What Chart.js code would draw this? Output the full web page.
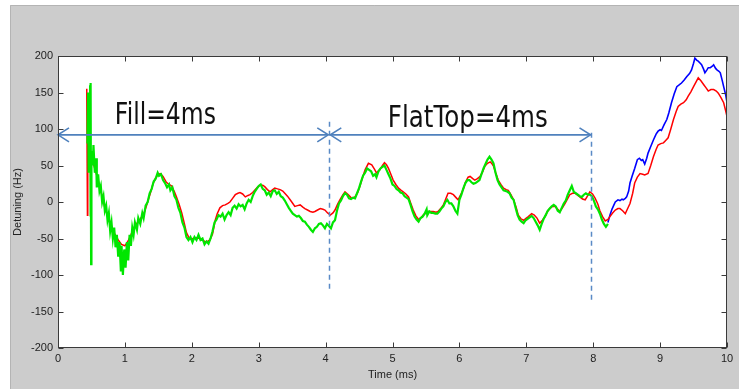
<!DOCTYPE html>
<html>
<head>
<meta charset="utf-8">
<script src="https://cdn.jsdelivr.net/npm/chart.js@4/dist/chart.umd.min.js"></script>
<style>
  html, body { margin: 0; padding: 0; background: #ffffff; }
  #wrap { position: relative; width: 739px; height: 389px; }
  canvas { display: block; }
</style>
</head>
<body>
<div id="wrap"><canvas id="c" width="739" height="389"></canvas></div>
<script>
// ---------- data (time in ms, detuning in Hz) ----------
const xTickValues = [0, 1, 2, 3, 4, 5, 6, 7, 8, 9, 10];
const yTickValues = [-200, -150, -100, -50, 0, 50, 100, 150, 200];

const redSeries = [[0.43,155],[0.44,-18],[0.445,145],[0.45,72],[0.50,62],[0.55,46],[0.60,30],[0.63,18],[0.67,5],[0.70,-8],[0.74,-18],[0.78,-28],[0.82,-38],[0.85,-44],[0.90,-52],[0.95,-58],[1.00,-60],[1.05,-53],[1.09,-45],[1.13,-36],[1.17,-30],[1.20,-27],[1.24,-22],[1.28,-17],[1.32,-6],[1.35,3],[1.39,15],[1.42,25],[1.46,33],[1.50,38],[1.53,39],[1.57,35],[1.62,27],[1.66,24],[1.70,22],[1.74,14],[1.77,7],[1.81,-3],[1.85,-15],[1.89,-30],[1.92,-42],[1.97,-51],[2.02,-50],[2.07,-49],[2.12,-50],[2.17,-53],[2.22,-55],[2.27,-52],[2.31,-44],[2.35,-25],[2.38,-16],[2.42,-8],[2.46,-5],[2.50,-4],[2.54,-2],[2.57,0],[2.61,5],[2.65,10],[2.69,12],[2.72,13],[2.76,11],[2.80,7],[2.84,9],[2.87,10],[2.91,13],[2.94,16],[2.98,20],[3.02,23],[3.06,23],[3.09,21],[3.13,17],[3.17,14],[3.21,17],[3.24,19],[3.28,18],[3.32,17],[3.36,15],[3.39,12],[3.43,8],[3.47,3],[3.51,-2],[3.54,-6],[3.58,-5],[3.62,-4],[3.66,-7],[3.69,-9],[3.73,-11],[3.77,-13],[3.81,-14],[3.84,-13],[3.88,-11],[3.92,-9],[3.96,-10],[3.99,-11],[4.03,-15],[4.07,-18],[4.11,-15],[4.14,-11],[4.18,-3],[4.22,4],[4.26,10],[4.29,14],[4.34,10],[4.39,5],[4.44,7],[4.48,13],[4.51,21],[4.55,33],[4.59,44],[4.64,53],[4.69,51],[4.73,45],[4.76,40],[4.81,44],[4.85,50],[4.88,54],[4.91,51],[4.94,46],[4.98,37],[5.01,30],[5.05,24],[5.09,19],[5.13,16],[5.16,14],[5.20,11],[5.24,7],[5.27,-1],[5.31,-11],[5.35,-19],[5.39,-24],[5.43,-21],[5.46,-18],[5.50,-15],[5.54,-13],[5.58,-13],[5.61,-13],[5.65,-14],[5.68,-13],[5.72,-9],[5.76,-4],[5.80,5],[5.83,12],[5.87,12],[5.91,10],[5.95,6],[5.98,3],[6.02,10],[6.06,18],[6.09,27],[6.13,34],[6.16,35],[6.20,32],[6.23,30],[6.27,32],[6.31,35],[6.35,42],[6.38,49],[6.42,53],[6.46,55],[6.49,52],[6.51,49],[6.55,38],[6.58,30],[6.62,24],[6.66,19],[6.70,17],[6.73,16],[6.77,10],[6.81,3],[6.85,-8],[6.88,-18],[6.92,-23],[6.96,-25],[7.00,-22],[7.03,-20],[7.08,-16],[7.12,-18],[7.16,-22],[7.20,-29],[7.24,-25],[7.28,-20],[7.31,-14],[7.35,-9],[7.39,-6],[7.43,-6],[7.47,-10],[7.50,-13],[7.54,-8],[7.58,-2],[7.62,5],[7.65,10],[7.69,12],[7.73,12],[7.77,9],[7.80,7],[7.84,4],[7.88,3],[7.92,9],[7.95,14],[7.99,11],[8.03,5],[8.07,-3],[8.10,-12],[8.14,-20],[8.18,-26],[8.22,-24],[8.25,-20],[8.29,-15],[8.33,-11],[8.37,-9],[8.40,-9],[8.44,-12],[8.48,-16],[8.51,-10],[8.55,-2],[8.59,12],[8.62,26],[8.66,34],[8.70,39],[8.74,38],[8.77,37],[8.82,39],[8.86,50],[8.90,62],[8.94,72],[8.97,78],[9.01,80],[9.05,81],[9.08,84],[9.12,88],[9.16,100],[9.20,113],[9.24,124],[9.27,131],[9.31,134],[9.35,136],[9.39,140],[9.42,145],[9.46,151],[9.50,158],[9.54,165],[9.57,170],[9.61,166],[9.65,161],[9.69,156],[9.72,152],[9.76,154],[9.80,154],[9.84,152],[9.87,149],[9.91,143],[9.95,136],[9.98,125],[10.0,117]];

const greenSeries = [[0.44,80],[0.45,150],[0.455,40],[0.46,120],[0.47,60],[0.48,160],[0.485,-20],[0.49,163],[0.495,-85],[0.50,70],[0.52,50],[0.53,78],[0.55,40],[0.57,60],[0.58,20],[0.60,38],[0.62,15],[0.64,22],[0.66,0],[0.68,8],[0.70,-12],[0.72,-5],[0.74,-25],[0.76,-15],[0.78,-40],[0.80,-28],[0.82,-50],[0.84,-35],[0.86,-62],[0.88,-45],[0.90,-75],[0.92,-55],[0.94,-95],[0.95,-60],[0.97,-100],[0.99,-65],[1.01,-90],[1.03,-55],[1.05,-80],[1.07,-45],[1.09,-60],[1.11,-35],[1.13,-45],[1.15,-28],[1.18,-38],[1.20,-22],[1.23,-30],[1.26,-15],[1.28,-22],[1.31,-5],[1.34,0],[1.37,12],[1.40,18],[1.43,28],[1.46,32],[1.49,40],[1.51,36],[1.54,38],[1.57,30],[1.60,26],[1.63,20],[1.66,24],[1.68,16],[1.71,20],[1.74,8],[1.77,3],[1.80,-8],[1.83,-15],[1.86,-28],[1.89,-35],[1.92,-48],[1.95,-52],[1.98,-48],[2.01,-55],[2.04,-48],[2.07,-52],[2.10,-45],[2.13,-52],[2.16,-50],[2.19,-58],[2.22,-54],[2.25,-57],[2.28,-50],[2.31,-40],[2.34,-28],[2.37,-24],[2.40,-18],[2.43,-20],[2.46,-16],[2.49,-24],[2.52,-18],[2.55,-14],[2.58,-18],[2.61,-8],[2.64,-5],[2.67,-9],[2.70,-3],[2.73,-6],[2.76,-4],[2.79,-10],[2.82,-2],[2.85,3],[2.88,0],[2.91,8],[2.94,14],[2.97,18],[3.00,22],[3.03,24],[3.06,18],[3.09,16],[3.12,10],[3.15,13],[3.18,8],[3.21,15],[3.24,16],[3.27,11],[3.30,14],[3.33,8],[3.36,6],[3.39,2],[3.42,-3],[3.45,-8],[3.48,-12],[3.51,-16],[3.54,-18],[3.57,-20],[3.60,-19],[3.63,-22],[3.66,-26],[3.69,-27],[3.72,-31],[3.75,-34],[3.78,-38],[3.81,-41],[3.84,-36],[3.87,-34],[3.90,-30],[3.93,-29],[3.96,-32],[3.99,-36],[4.02,-30],[4.05,-33],[4.08,-36],[4.11,-28],[4.14,-25],[4.17,-12],[4.20,-2],[4.23,2],[4.26,8],[4.29,12],[4.32,10],[4.35,5],[4.38,4],[4.41,6],[4.44,5],[4.47,12],[4.50,19],[4.53,28],[4.56,36],[4.59,40],[4.62,46],[4.65,44],[4.68,42],[4.71,36],[4.74,38],[4.76,34],[4.79,42],[4.82,46],[4.85,48],[4.88,50],[4.91,44],[4.94,38],[4.97,32],[5.00,24],[5.03,22],[5.06,18],[5.09,16],[5.12,13],[5.15,12],[5.18,8],[5.21,6],[5.24,4],[5.27,-4],[5.30,-13],[5.33,-20],[5.36,-24],[5.39,-27],[5.42,-22],[5.45,-20],[5.48,-16],[5.51,-10],[5.52,-18],[5.55,-13],[5.58,-15],[5.61,-15],[5.64,-16],[5.67,-16],[5.70,-13],[5.73,-9],[5.76,-6],[5.79,0],[5.82,3],[5.85,-2],[5.88,-2],[5.91,-6],[5.94,-12],[5.97,-16],[6.00,3],[6.03,10],[6.06,19],[6.09,26],[6.12,30],[6.15,30],[6.18,27],[6.21,25],[6.24,26],[6.27,28],[6.30,30],[6.33,38],[6.36,46],[6.39,52],[6.42,58],[6.45,62],[6.48,58],[6.51,53],[6.54,40],[6.57,30],[6.60,24],[6.63,20],[6.66,16],[6.69,15],[6.72,14],[6.75,12],[6.78,6],[6.81,3],[6.84,-8],[6.87,-18],[6.90,-24],[6.93,-27],[6.96,-29],[6.99,-25],[7.02,-23],[7.05,-21],[7.08,-19],[7.11,-22],[7.14,-27],[7.17,-32],[7.20,-38],[7.23,-30],[7.26,-23],[7.29,-18],[7.32,-12],[7.35,-9],[7.38,-6],[7.41,-4],[7.44,-6],[7.47,-12],[7.50,-14],[7.53,-8],[7.56,-2],[7.59,2],[7.62,10],[7.65,16],[7.68,22],[7.71,14],[7.74,12],[7.77,10],[7.80,8],[7.83,7],[7.86,10],[7.89,12],[7.92,10],[7.95,10],[7.98,8],[8.01,2],[8.04,-6],[8.07,-10],[8.10,-16],[8.13,-24],[8.16,-30],[8.19,-34],[8.22,-30]];

const blueSeries = [[8.22,-28],[8.25,-18],[8.28,-10],[8.30,-6],[8.33,0],[8.37,3],[8.40,2],[8.43,4],[8.45,3],[8.48,5],[8.50,7],[8.53,15],[8.55,26],[8.58,35],[8.62,46],[8.66,58],[8.69,60],[8.72,57],[8.74,58],[8.77,52],[8.80,60],[8.82,67],[8.86,76],[8.90,85],[8.94,93],[8.97,97],[9.00,99],[9.02,98],[9.06,106],[9.10,113],[9.13,122],[9.17,136],[9.21,148],[9.25,158],[9.28,160],[9.32,163],[9.36,167],[9.40,172],[9.44,176],[9.47,181],[9.50,190],[9.52,197],[9.55,194],[9.57,193],[9.60,190],[9.62,188],[9.65,182],[9.67,177],[9.70,181],[9.72,184],[9.75,184],[9.78,186],[9.80,188],[9.83,183],[9.85,181],[9.88,179],[9.90,177],[9.93,166],[9.95,158],[9.98,147],[10.0,136]];

// annotation values (data units)
const arrowLevel = 92;
const fillSpan = [0, 4.04];
const flatTopSpan = [4.07, 7.96];
const dashedMarkers = [[4.05, 110, -124], [7.97, 95, -138]];
const labelFill = { text: 'Fill=4ms', t: 0.85, v: 107 };
const labelFlatTop = { text: 'FlatTop=4ms', t: 4.93, v: 103 };

// ---------- drawing ----------
const toXY = s => s.map(p => ({ x: p[0], y: p[1] }));

const backgroundPlugin = {
  id: 'bg',
  beforeDraw(chart) {
    const { ctx, chartArea: a } = chart;
    ctx.save();
    ctx.fillStyle = '#ffffff';
    ctx.fillRect(0, 0, chart.width, chart.height);
    ctx.fillStyle = '#cccccc';
    ctx.fillRect(10, 5, chart.width - 10, chart.height - 5);
    ctx.strokeStyle = '#b4b4b4';
    ctx.lineWidth = 1;
    ctx.beginPath();
    ctx.moveTo(10.5, chart.height); ctx.lineTo(10.5, 5.5); ctx.lineTo(chart.width, 5.5);
    ctx.stroke();
    ctx.fillStyle = '#ffffff';
    ctx.fillRect(a.left, a.top, a.right - a.left, a.bottom - a.top);
    ctx.restore();
  }
};

function drawLabel(ctx, txt, x, y, targetW, px) {
  ctx.save();
  ctx.font = px + 'px "DejaVu Sans"';
  const w = ctx.measureText(txt).width;
  ctx.translate(x, y);
  ctx.scale(targetW / w, 1);
  ctx.fillStyle = '#111111';
  ctx.textBaseline = 'alphabetic';
  ctx.textAlign = 'left';
  ctx.fillText(txt, 0, 0);
  ctx.restore();
}

const framePlugin = {
  id: 'frame',
  afterDatasetsDraw(chart) {
    const { ctx, chartArea: a, scales: { x, y } } = chart;
    ctx.save();
    // annotations
    ctx.strokeStyle = '#5a8ac6';
    ctx.lineWidth = 1.5;
    ctx.setLineDash([5, 4]);
    dashedMarkers.forEach(m => {
      const px = Math.round(x.getPixelForValue(m[0])) + 0.5;
      ctx.beginPath();
      ctx.moveTo(px, y.getPixelForValue(m[1]));
      ctx.lineTo(px, y.getPixelForValue(m[2]));
      ctx.stroke();
    });
    ctx.setLineDash([]);
    ctx.strokeStyle = '#4f81bd';
    ctx.lineWidth = 1.6;
    const ay = y.getPixelForValue(arrowLevel);
    const head = (px, dir) => {
      ctx.beginPath();
      ctx.moveTo(px - dir * 11, ay - 7);
      ctx.lineTo(px, ay);
      ctx.lineTo(px - dir * 11, ay + 7);
      ctx.stroke();
    };
    [fillSpan, flatTopSpan].forEach(s => {
      const x0 = x.getPixelForValue(s[0]);
      const x1 = x.getPixelForValue(s[1]);
      ctx.beginPath();
      ctx.moveTo(x0, ay); ctx.lineTo(x1, ay);
      ctx.stroke();
      head(x0, -1);
      head(x1, 1);
    });
    drawLabel(ctx, labelFill.text, x.getPixelForValue(labelFill.t), y.getPixelForValue(labelFill.v), 101, 30);
    drawLabel(ctx, labelFlatTop.text, x.getPixelForValue(labelFlatTop.t), y.getPixelForValue(labelFlatTop.v), 160, 30);

    // axes box and inward ticks
    ctx.strokeStyle = '#3a3a3a';
    ctx.lineWidth = 1;
    const L = Math.round(a.left) + 0.5, R = Math.round(a.right) - 0.5;
    const T = Math.round(a.top) + 0.5, B = Math.round(a.bottom) - 0.5;
    ctx.strokeRect(L, T, R - L, B - T);
    ctx.beginPath();
    xTickValues.forEach(v => {
      const px = Math.round(x.getPixelForValue(v)) + 0.5;
      ctx.moveTo(px, B); ctx.lineTo(px, B - 5);
      ctx.moveTo(px, T); ctx.lineTo(px, T + 5);
    });
    yTickValues.forEach(v => {
      const py = Math.round(y.getPixelForValue(v)) + 0.5;
      ctx.moveTo(L, py); ctx.lineTo(L + 5, py);
      ctx.moveTo(R, py); ctx.lineTo(R - 5, py);
    });
    ctx.stroke();
    ctx.restore();
  }
};

const tickFont = { family: '"Liberation Sans", Arial, sans-serif', size: 11 };

new Chart(document.getElementById('c'), {
  type: 'line',
  data: {
    datasets: [
      { label: 'green', data: toXY(greenSeries), borderColor: '#00e600', borderWidth: 2.2, pointRadius: 0, tension: 0 },
      { label: 'red', data: toXY(redSeries), borderColor: '#ff0000', borderWidth: 1.5, pointRadius: 0, tension: 0 },
      { label: 'blue', data: toXY(blueSeries), borderColor: '#0000ff', borderWidth: 1.6, pointRadius: 0, tension: 0 }
    ]
  },
  options: {
    responsive: false,
    animation: false,
    devicePixelRatio: 1,
    layout: { padding: { left: 10, right: 12, top: 56, bottom: 0 } },
    plugins: { legend: { display: false }, tooltip: { enabled: false } },
    scales: {
      x: {
        type: 'linear', min: 0, max: 10,
        afterFit: s => { s.height = 41; },
        afterBuildTicks: s => { s.ticks = xTickValues.map(v => ({ value: v })); },
        grid: { display: false, drawTicks: false },
        border: { display: false },
        ticks: { font: tickFont, color: '#222', padding: 4, maxRotation: 0, autoSkip: false },
        title: { display: true, text: 'Time (ms)', font: tickFont, color: '#222', padding: { top: 0, bottom: 7 } }
      },
      y: {
        type: 'linear', min: -200, max: 200,
        afterFit: s => { s.width = 48; },
        afterBuildTicks: s => { s.ticks = yTickValues.map(v => ({ value: v })); },
        grid: { display: false, drawTicks: false },
        border: { display: false },
        ticks: { font: tickFont, color: '#222', padding: 5, autoSkip: false },
        title: { display: true, text: 'Detuning (Hz)', font: tickFont, color: '#222', padding: { top: 1, bottom: 0 } }
      }
    }
  },
  plugins: [backgroundPlugin, framePlugin]
});
</script>
</body>
</html>
